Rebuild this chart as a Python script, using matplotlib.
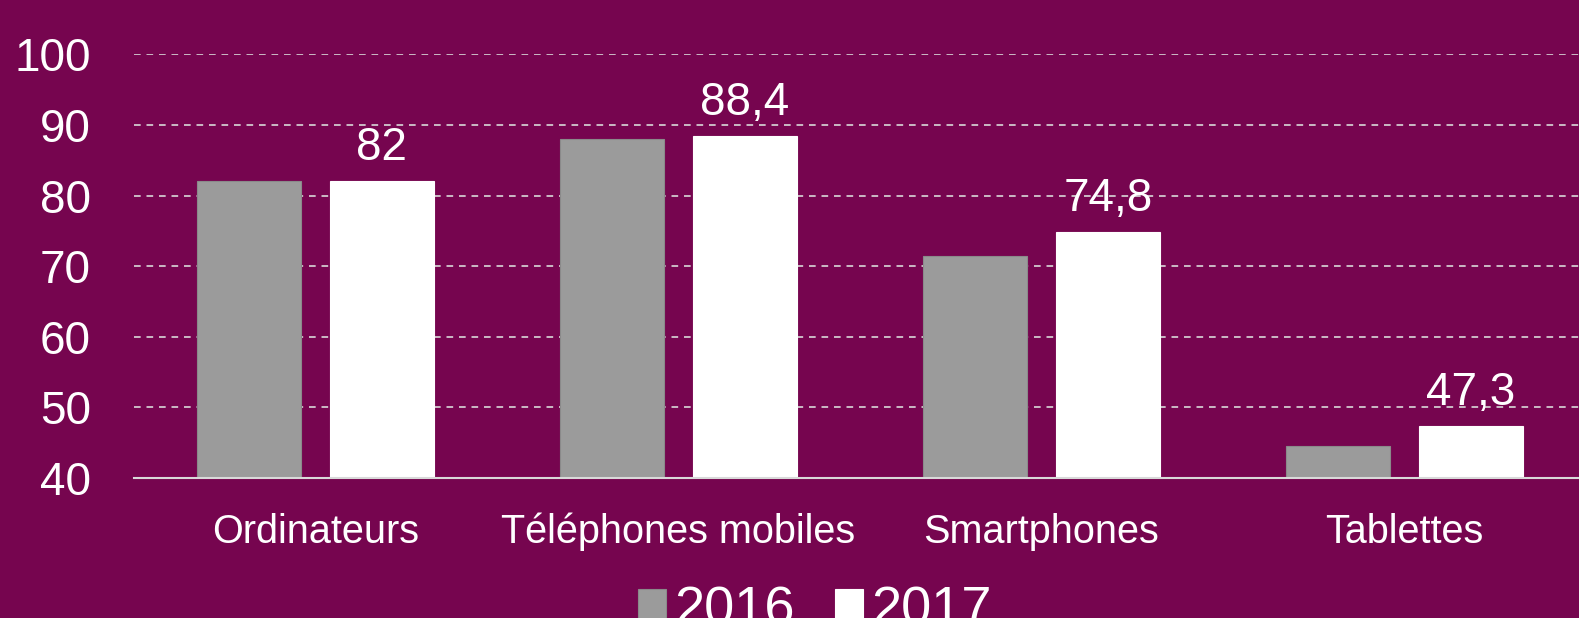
import numpy as np
from matplotlib import pyplot as plt

categories = ['Ordinateurs', 'Téléphones mobiles', 'Smartphones', 'Tablettes']
valeurs_2016 = [82, 88, 71.5, 44.6]
valeurs_2017 = [82, 88.4, 74.8, 47.3]
etiquettes_2017 = ['82', '88,4', '74,8', '47,3']
yticks = [40, 50, 60, 70, 80, 90, 100]

fond = '#76054F'
gris = '#9B9B9B'

plt.rcParams['font.family'] = ['Liberation Sans', 'DejaVu Sans']

fig = plt.figure(figsize=(15.79, 6.18), dpi=100, facecolor=fond)
ax = fig.add_axes([0.0848, 0.2265, 0.9196, 0.6855], facecolor=fond)

x = np.arange(len(categories))
largeur = 0.286
ecart = 0.183

b1 = ax.bar(x - ecart, valeurs_2016, largeur, color=gris, edgecolor='#8A8A8A',
            linewidth=0.8, label='2016', zorder=3)
b2 = ax.bar(x + ecart, valeurs_2017, largeur, color='white', edgecolor='white',
            linewidth=0.8, label='2017', zorder=3)

for rect, txt in zip(b2, etiquettes_2017):
    ax.annotate(txt, (rect.get_x() + rect.get_width() / 2, rect.get_height()),
                xytext=(0, 8), textcoords='offset points', ha='center', va='bottom',
                color='white', fontsize=33)

ax.set_ylim(40, 100)
ax.set_xlim(-0.5, len(categories) - 0.5)
ax.set_yticks(yticks)
ax.set_xticks(x)
ax.set_xticklabels(categories)
ax.tick_params(axis='y', length=0, pad=31, labelsize=33, labelcolor='white')
ax.tick_params(axis='x', length=0, pad=25, labelsize=28.5, labelcolor='white')

ax.grid(axis='y', color='#D9D9D9', linestyle=(0, (4, 3.5)), linewidth=1.2, zorder=0)
for s in ['top', 'right', 'left']:
    ax.spines[s].set_visible(False)
ax.spines['bottom'].set_color('#D9D9D9')
ax.spines['bottom'].set_linewidth(1.5)
ax.spines['bottom'].set_zorder(4)

fig.legend(handles=[b1, b2], loc='upper center', bbox_to_anchor=(0.516, 0.097),
           frameon=False, ncol=2, fontsize=39, labelcolor='white',
           handlelength=0.52, handleheight=0.52, handletextpad=0.15,
           columnspacing=0.75, borderpad=0)

fig.savefig('out.png', dpi=100, facecolor=fond)
